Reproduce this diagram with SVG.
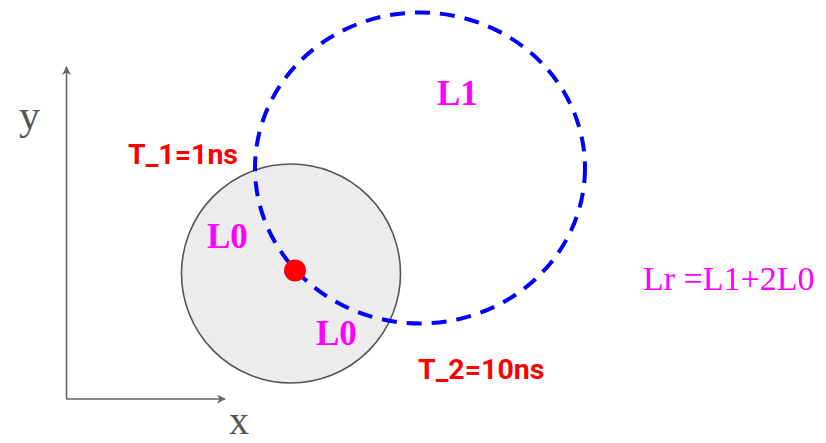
<svg xmlns="http://www.w3.org/2000/svg" width="826" height="443" viewBox="0 0 826 443">
<style>
.axis{stroke:#666;stroke-width:1.6;fill:none}
.axlbl{font-family:"Liberation Serif",serif;font-size:42px;fill:#555}
.lbl{font-family:"Liberation Serif",serif;font-weight:bold;font-size:35px;fill:#ff00ff}
.time{font-family:Roboto,"Liberation Sans",sans-serif;font-weight:bold;font-size:28.5px;fill:#ff0000}
.eq{font-family:"Liberation Serif",serif;font-size:34px;fill:#ff00ff}
</style>
<defs>
<marker id="arr" viewBox="0 0 10 10" refX="9" refY="5" markerWidth="9" markerHeight="9" markerUnits="userSpaceOnUse" orient="auto">
<path d="M0,0 L10,5 L0,10 L3,5 Z" fill="#666"/>
</marker>
</defs>
<rect width="826" height="443" fill="#fff"/>
<g id="axes">
<line class="axis" x1="66.5" y1="399" x2="66.5" y2="67" marker-end="url(#arr)"/>
<line class="axis" x1="66" y1="399" x2="225" y2="399" marker-end="url(#arr)"/>
<text class="axlbl" x="19" y="129">y</text>
<text class="axlbl" x="229" y="434" style="font-size:40px">x</text>
</g>
<g id="circle-L0">
<circle cx="291" cy="273.5" r="109.5" fill="#ececec" stroke="#555" stroke-width="1.6"/>
</g>
<g id="connectors">
<ellipse cx="420" cy="168" rx="165" ry="155.5" fill="none" stroke="#0000ff" stroke-width="4" stroke-dasharray="15 10"/>
</g>
<g id="source">
<circle cx="295" cy="270.5" r="11" fill="#ff0000"/>
</g>
<g id="labels">
<text class="lbl" x="437" y="105">L1</text>
<text class="lbl" x="207" y="248">L0</text>
<text class="lbl" x="316" y="345">L0</text>
<text class="time" x="128" y="164">T_1=1ns</text>
<text class="time" x="418" y="379">T_2=10ns</text>
<text class="eq" x="643" y="290">Lr =L1+2L0</text>
</g>
</svg>
